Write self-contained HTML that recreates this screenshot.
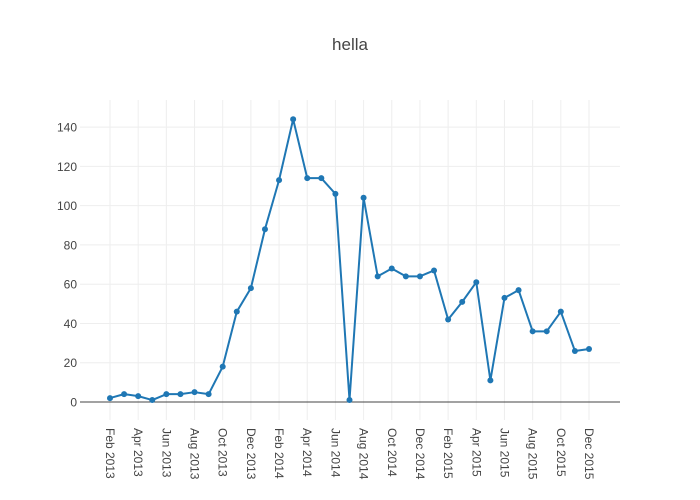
<!DOCTYPE html>
<html><head><meta charset="utf-8"><style>
body{margin:0;background:#fff;}
svg{display:block;font-family:"Liberation Sans",sans-serif;}
</style></head><body>
<svg width="700" height="500">
<rect width="700" height="500" fill="#fff"/>
<text x="350" y="50" text-anchor="middle" font-size="17" fill="#444">hella</text>
<g id="grid"></g><g id="axes"></g><g id="series"></g>
</svg>
<script>
const months = ["Feb 2013","Mar 2013","Apr 2013","May 2013","Jun 2013","Jul 2013","Aug 2013","Sep 2013","Oct 2013","Nov 2013","Dec 2013","Jan 2014","Feb 2014","Mar 2014","Apr 2014","May 2014","Jun 2014","Jul 2014","Aug 2014","Sep 2014","Oct 2014","Nov 2014","Dec 2014","Jan 2015","Feb 2015","Mar 2015","Apr 2015","May 2015","Jun 2015","Jul 2015","Aug 2015","Sep 2015","Oct 2015","Nov 2015","Dec 2015"];
const values = [2,4,3,1,4,4,5,4,18,46,58,88,113,144,114,114,106,1,104,64,68,64,64,67,42,51,61,11,53,57,36,36,46,26,27];
const yTicks = [0,20,40,60,80,100,120,140];
const xTickEvery = 2;
const NS="http://www.w3.org/2000/svg";
const x0=110, dx=(589-110)/34;
function xs(i){return x0+i*dx;}
function ys(v){return 402-v*1.9635;}
function mk(tag,attrs,parent){const e=document.createElementNS(NS,tag);for(const k in attrs)e.setAttribute(k,attrs[k]);parent.appendChild(e);return e;}
const grid=document.getElementById('grid'),axes=document.getElementById('axes'),ser=document.getElementById('series');
yTicks.forEach(t=>{
  if(t!==0){const l=mk('line',{x1:80,x2:620,y1:ys(t),y2:ys(t),stroke:'#eee','stroke-width':1},grid);
  
  }
  const tx=mk('text',{x:77,y:ys(t)+4.5,'text-anchor':'end','font-size':12,fill:'#444'},axes);
  tx.textContent=t;
  
  
});
months.forEach((m,i)=>{
  if(i%xTickEvery)return;
  const x=xs(i);
  const l=mk('line',{x1:x,x2:x,y1:100,y2:420,stroke:'#eee','stroke-width':1},grid);
  
  
  const tx=mk('text',{x:0,y:0,'font-size':12,fill:'#444',transform:`translate(${x-4},428) rotate(90)`},axes);
  tx.textContent=m;
  
  
});
const zl=mk('line',{x1:80,x2:620,y1:ys(0),y2:ys(0),stroke:'#444','stroke-width':1},axes);


const pl=mk('polyline',{points:values.map((v,i)=>xs(i)+','+ys(v)).join(' '),fill:'none',stroke:'#1f77b4','stroke-width':2,'stroke-linejoin':'round'},ser);


values.forEach((v,i)=>{
  const c=mk('circle',{cx:xs(i),cy:ys(v),r:3,fill:'#1f77b4'},ser);
  
  
});
</script>
</body></html>
